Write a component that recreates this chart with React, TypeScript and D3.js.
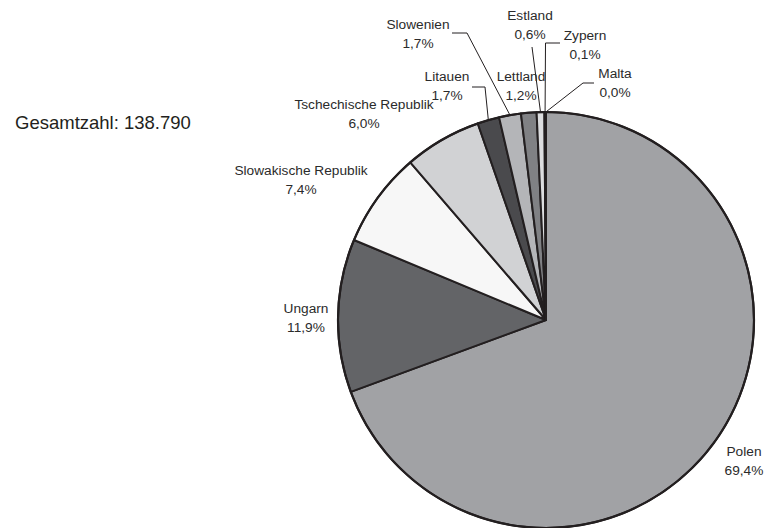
import React from "react";
import * as d3 from "d3";

const categories = [
  "Polen",
  "Ungarn",
  "Slowakische Republik",
  "Tschechische Republik",
  "Litauen",
  "Slowenien",
  "Lettland",
  "Estland",
  "Zypern",
  "Malta",
];
const shares = [69.4, 11.9, 7.4, 6.0, 1.7, 1.7, 1.2, 0.6, 0.1, 0.02];
const shareLabels = ["69,4%", "11,9%", "7,4%", "6,0%", "1,7%", "1,7%", "1,2%", "0,6%", "0,1%", "0,0%"];
const totalLabel = "Gesamtzahl: 138.790";

const colors = [
  "#a1a2a5",
  "#636467",
  "#f7f7f7",
  "#d1d2d4",
  "#4a4a4d",
  "#b4b5b8",
  "#808184",
  "#dcdddf",
  "#c8c9cb",
  "#c8c9cb",
];

// label layout: centre of first line, and leader start/elbow (null = no leader)
const labelLayout: { x: number; y: number; start: [number, number] | null; elbow: [number, number] | null }[] = [
  { x: 744, y: 451, start: null, elbow: null },
  { x: 306, y: 308, start: null, elbow: null },
  { x: 301, y: 170, start: null, elbow: null },
  { x: 364, y: 104, start: null, elbow: null },
  { x: 447, y: 76, start: [472, 87], elbow: [485, 87] },
  { x: 418, y: 24, start: [452, 33], elbow: [467, 33] },
  { x: 521, y: 76, start: null, elbow: null },
  { x: 530, y: 15, start: [532, 47], elbow: null },
  { x: 585, y: 35, start: [560, 43], elbow: [545.5, 43] },
  { x: 615, y: 73, start: [594, 83], elbow: [583, 83] },
];

const W = 766;
const H = 528;
const cx = 546;
const cy = 320;
const R = 208;
const ink = "#231f20";

export default function App() {
  const pie = d3.pie<number>().sort(null).value((d) => d).startAngle(0).endAngle(2 * Math.PI);
  const arcs = pie(shares);
  const arcGen = d3.arc<d3.PieArcDatum<number>>().innerRadius(0).outerRadius(R);

  const edgePoint = (a: d3.PieArcDatum<number>): [number, number] => {
    const m = (a.startAngle + a.endAngle) / 2;
    return [cx + R * Math.sin(m), cy - R * Math.cos(m)];
  };

  return (
    <svg
      width={W}
      height={H}
      style={{ position: "absolute", left: 0, top: 0, background: "#fff" }}
      fontFamily="'Liberation Sans', Arial, sans-serif"
    >
      <rect x={0} y={0} width={W} height={H} fill="#fff" />
      <text x={15} y={122} fontSize={18.5} fill={ink} dominantBaseline="central">
        {totalLabel}
      </text>
      <g transform={`translate(${cx},${cy})`}>
        {arcs.map((a, i) => (
          <path
            key={i}
            d={arcGen(a) || ""}
            fill={colors[i]}
            stroke={ink}
            strokeWidth={2}
            strokeLinejoin="round"
          />
        ))}
        <circle r={R} fill="none" stroke={ink} strokeWidth={2.2} />
      </g>
      {arcs.map((a, i) => {
        const L = labelLayout[i];
        if (!L.start) return null;
        const p = edgePoint(a);
        const pts: [number, number][] = [L.start];
        if (L.elbow) pts.push(L.elbow);
        pts.push(p);
        const line = d3.line()(pts) || "";
        return <path key={"l" + i} d={line} fill="none" stroke={ink} strokeWidth={1} />;
      })}
      {categories.map((c, i) => {
        const L = labelLayout[i];
        return (
          <g key={"t" + i} fill="#2b2b2b" fontSize={13.7} textAnchor="middle">
            <text x={L.x} y={L.y} dominantBaseline="central">
              {c}
            </text>
            <text x={L.x} y={L.y + 19} dominantBaseline="central">
              {shareLabels[i]}
            </text>
          </g>
        );
      })}
    </svg>
  );
}
